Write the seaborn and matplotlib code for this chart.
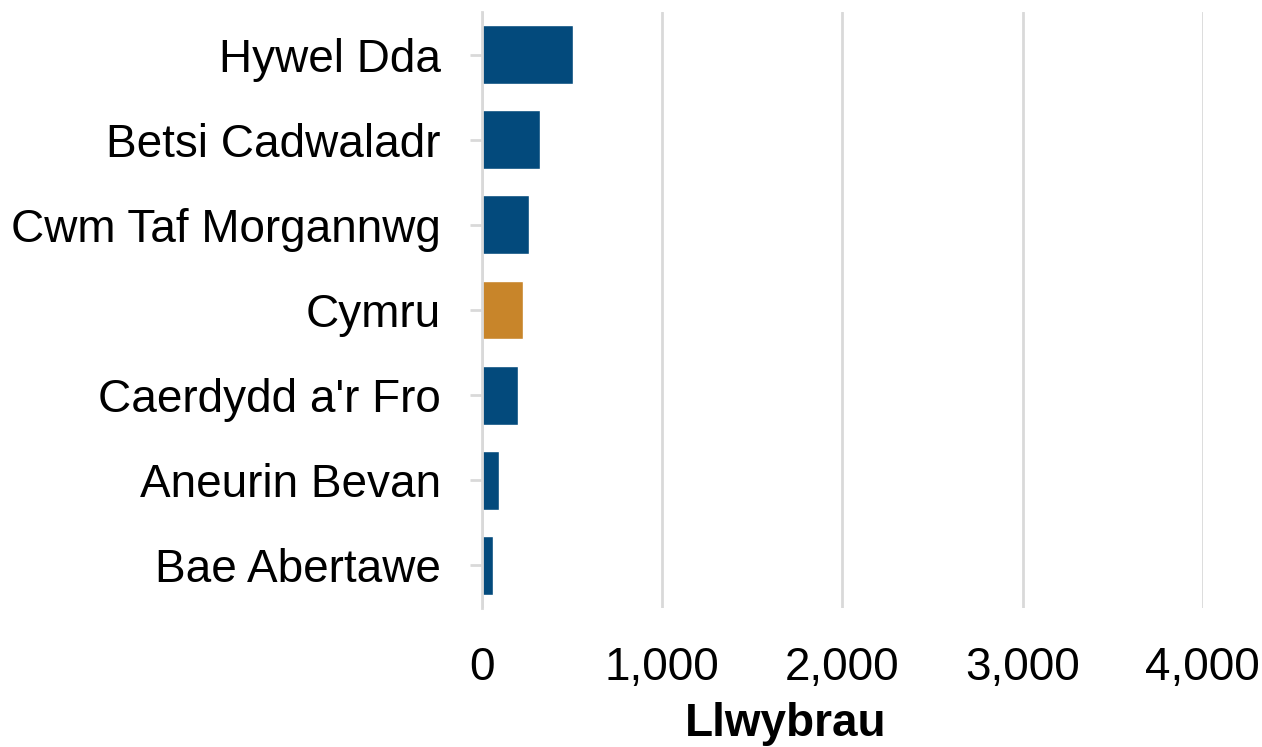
"""Bar chart of Llwybrau by health board"""

import pandas as pd
import matplotlib
matplotlib.use("Agg")
import matplotlib.pyplot as plt
import seaborn as sns
from matplotlib.ticker import FuncFormatter

# data
boards = [
    "Hywel Dda",
    "Betsi Cadwaladr",
    "Cwm Taf Morgannwg",
    "Cymru",
    "Caerdydd a'r Fro",
    "Aneurin Bevan",
    "Bae Abertawe",
]
pathways = [503, 324, 260, 227, 200, 96, 59]
bar_colours = ["#034a7c", "#034a7c", "#034a7c", "#c8852a", "#034a7c", "#034a7c", "#034a7c"]
x_ticks = [0, 1000, 2000, 3000, 4000]

GRID = "#d9d9d9"
FS = 33.0


def make_chart(df):
    sns.set_theme(style="white")
    plt.rcParams["font.family"] = ["Liberation Sans", "DejaVu Sans"]

    fig = plt.figure(figsize=(12.62, 7.47), dpi=100)
    ax = fig.add_axes([0.382, 0.186, 0.571, 0.798])

    sns.barplot(
        data=df, x="value", y="board", hue="board", palette=bar_colours,
        orient="h", width=0.69, legend=False, saturation=1, ax=ax,
    )

    ax.set_xlim(0, 4000)
    ax.set_xticks(x_ticks)
    ax.xaxis.set_major_formatter(FuncFormatter(lambda v, p: f"{int(v):,}"))
    ax.grid(axis="x", color=GRID, linewidth=2)
    ax.set_axisbelow(True)

    for side in ["top", "right", "bottom"]:
        ax.spines[side].set_visible(False)
    ax.spines["left"].set_color(GRID)
    ax.spines["left"].set_linewidth(2)

    ax.tick_params(axis="x", length=0, pad=27, labelsize=FS, colors="black")
    ax.tick_params(axis="y", length=8.6, width=2, color=GRID, pad=21,
                   labelsize=FS, labelcolor="black", left=True)

    ax.set_ylabel("")
    ax.set_xlabel("Llwybrau", fontsize=FS, fontweight="bold", color="black")
    ax.xaxis.set_label_coords(0.422, -0.194)
    ax.xaxis.label.set_verticalalignment("center")

    fig.savefig("out.png", dpi=100)


if __name__ == "__main__":
    data = pd.DataFrame({"board": boards, "value": pathways})
    make_chart(data)
